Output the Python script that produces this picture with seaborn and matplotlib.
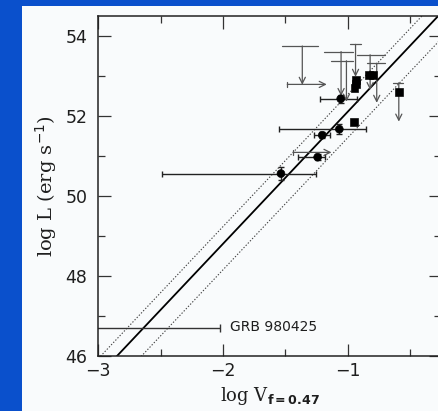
import numpy as np
import pandas as pd
import matplotlib
matplotlib.use("Agg")
import matplotlib.pyplot as plt
import seaborn as sns
from matplotlib.patches import Rectangle

# ---------------- data ----------------
# filled circles with error bars
circ_x = [-1.535, -1.241, -1.204, -1.067, -1.056]
circ_y = [50.56, 50.97, 51.52, 51.67, 52.43]
circ_xlo = [-2.487, -1.40, -1.27, -1.548, -1.222]
circ_xhi = [-1.254, -1.18, -1.14, -0.853, -0.923]
circ_yerr = [0.17, 0.08, 0.07, 0.12, 0.10]

# filled squares
sq_x = [-0.949, -0.936, -0.936, -0.945, -0.830, -0.800, -0.590]
sq_y = [51.84, 52.90, 52.79, 52.71, 53.03, 53.03, 52.60]

# upper limits in L (downward arrows with a horizontal bar on top)
ul_x = [-1.364, -1.053, -1.010, -0.937, -0.820, -0.767, -0.590]
ul_top = [53.75, 53.61, 53.38, 53.79, 53.53, 53.32, 52.83]
ul_bot = [52.78, 52.50, 52.36, 52.98, 52.65, 52.33, 51.86]
ul_capl = [-1.525, -1.188, -1.130, -0.980, -0.928, -0.848, -0.640]
ul_capr = [-1.241, -0.955, -0.955, -0.890, -0.700, -0.700, -0.560]

# lower limits in V (rightward arrows)
ll_y = [52.79, 51.09]
ll_x0 = [-1.484, -1.436]
ll_x1 = [-1.168, -1.130]

# GRB 980425
grb_x = [-2.02]
grb_y = [46.71]
grb_xerr_low = [1.10]
grb_label = "GRB 980425"

# best-fit line and its scatter band (end points)
fit_x = [-3.00, -0.20]
fit_y = [45.505, 54.745]
band_hi_y = [45.935, 55.175]
band_lo_y = [44.855, 54.095]

xticks_major = [-3, -2, -1]
xtick_labels = ["\u22123", "\u22122", "\u22121"]
xticks_minor = [-2.5, -1.5, -0.5]
yticks_major = [46, 48, 50, 52, 54]
ytick_labels = ["46", "48", "50", "52", "54"]
yticks_minor = [47, 49, 51, 53]

BLUE = "#0a50cc"
PANEL = "#f9fbfc"
INK = "#1e1e1e"

# ---------------- figure ----------------
sns.set_style("ticks")
plt.rcParams["font.family"] = ["DejaVu Sans"]

W, H = 439, 411
fig = plt.figure(figsize=(W / 100, H / 100), dpi=100, facecolor=BLUE)
fig.patches.append(Rectangle((22 / W, 0), 1, (H - 6) / H, transform=fig.transFigure,
                             facecolor=PANEL, edgecolor="none", zorder=-10))
ax = fig.add_axes([98.3 / W, 55 / H, 342.9 / W, 340 / H])
ax.set_zorder(5)
ax.set_facecolor(PANEL)
ax.set_xlim(-3, -0.25)
ax.set_ylim(46, 54.5)

# fit lines
sns.lineplot(x=fit_x, y=fit_y, color="black", lw=1.3, ax=ax, zorder=2)
sns.lineplot(x=fit_x, y=band_hi_y, color="#444", lw=0.8, ls=(0, (1.2, 1.6)), ax=ax, zorder=2)
sns.lineplot(x=fit_x, y=band_lo_y, color="#444", lw=0.8, ls=(0, (1.2, 1.6)), ax=ax, zorder=2)

# GRB 980425
ax.errorbar(grb_x, grb_y, xerr=[grb_xerr_low, [0]], fmt="none", ecolor="#333",
            elinewidth=1.0, capsize=3)
ax.text(-1.94, grb_y[0] + 0.02, grb_label, ha="left", va="center", fontsize=10, color=INK)

# error bars of circles
cx = np.array(circ_x)
ax.errorbar(circ_x, circ_y, xerr=[cx - np.array(circ_xlo), np.array(circ_xhi) - cx],
            yerr=circ_yerr, fmt="none", ecolor="#222", elinewidth=1.0, capsize=2.5, zorder=3)

arrow_kw = dict(arrowstyle="->", color="#555", lw=0.9, shrinkA=0, shrinkB=0, mutation_scale=11)

# upper limits
for x, t, b, l, r in zip(ul_x, ul_top, ul_bot, ul_capl, ul_capr):
    ax.plot([l, r], [t, t], color="#555", lw=0.9, zorder=3)
    ax.annotate("", xy=(x, b), xytext=(x, t), arrowprops=arrow_kw, zorder=3)

# lower limits
for y, x0, x1 in zip(ll_y, ll_x0, ll_x1):
    ax.plot([x0, x0], [y - 0.07, y + 0.07], color="#555", lw=0.9, zorder=3)
    ax.annotate("", xy=(x1, y), xytext=(x0, y), arrowprops=arrow_kw, zorder=3)

# points
pts = pd.DataFrame({
    "x": circ_x + sq_x,
    "y": circ_y + sq_y,
    "kind": ["circle"] * len(circ_x) + ["square"] * len(sq_x),
})
sns.scatterplot(data=pts, x="x", y="y", style="kind", markers={"circle": "o", "square": "s"},
                color="black", edgecolor="black", s=32, legend=False, ax=ax, zorder=4)

# axes styling
ax.set_xticks(xticks_major)
ax.set_xticklabels(xtick_labels)
ax.set_xticks(xticks_minor, minor=True)
ax.set_yticks(yticks_major)
ax.set_yticklabels(ytick_labels)
ax.set_yticks(yticks_minor, minor=True)
ax.tick_params(which="both", direction="in", top=True, right=True, color="#333", width=0.9,
               labelsize=12.5, labelcolor=INK)
ax.tick_params(which="major", length=9)
ax.tick_params(which="minor", length=5)
ax.tick_params(axis="x", pad=4)
ax.tick_params(axis="y", pad=8)
for s in ax.spines.values():
    s.set_color("#222")
    s.set_linewidth(1.1)

ax.set_xlabel(r"log V$_{\mathbf{f=0.47}}$", fontsize=13, family="DejaVu Serif", color=INK)
ax.set_ylabel(r"log L (erg s$^{-1}$)", fontsize=14, family="DejaVu Serif", color=INK)
ax.xaxis.set_label_coords(0.50, -0.085)
ax.yaxis.set_label_coords(-0.115, 0.50)

fig.savefig("out.png", dpi=100, facecolor=BLUE)
